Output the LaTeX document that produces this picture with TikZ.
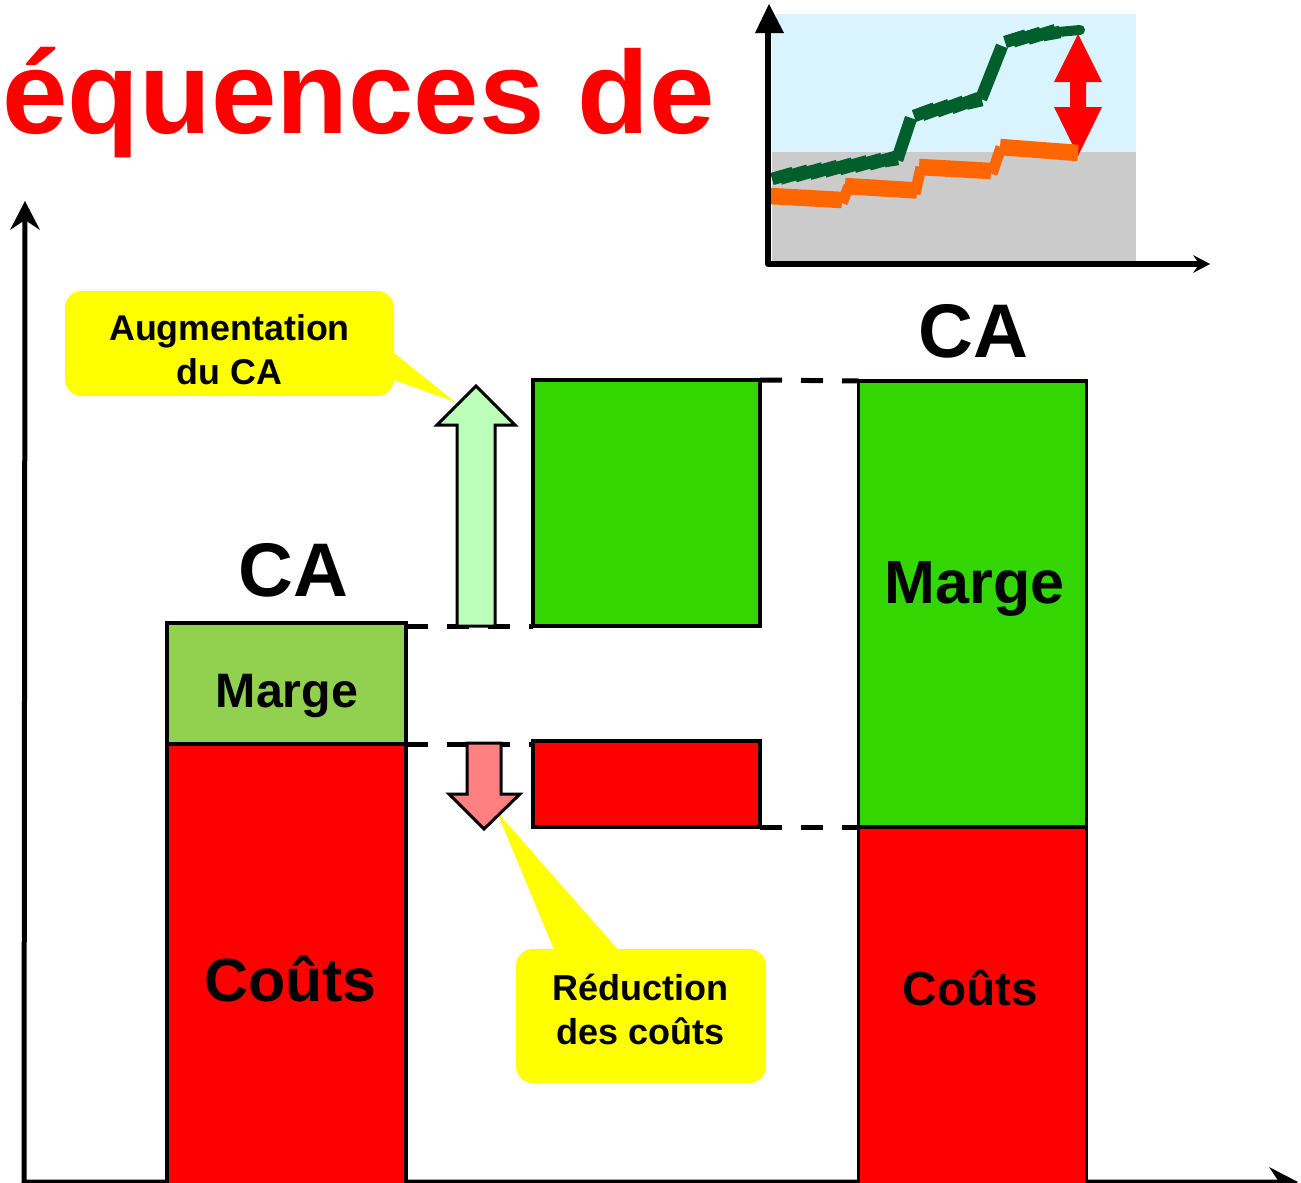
\documentclass[tikz,border=0pt]{standalone}
\usepackage{fontspec}
\setmainfont{Liberation Sans}
\usetikzlibrary{decorations.pathmorphing}
\definecolor{barG}{HTML}{33D600}
\definecolor{barO}{HTML}{92D050}
\definecolor{skyB}{HTML}{D9F4FF}
\definecolor{grayB}{HTML}{CBCBCB}
\definecolor{darkG}{HTML}{005F2A}
\definecolor{orangeL}{HTML}{FF6600}
\definecolor{arrUp}{HTML}{BBFFBB}
\definecolor{arrDn}{HTML}{FF8080}
\definecolor{callY}{HTML}{FFFF00}
\definecolor{pureR}{HTML}{FF0000}
\newcommand{\lbl}[1]{\fontsize{#1}{#1}\selectfont\bfseries}
\tikzset{
  x=1pt,y=-1pt,
  bar/.style={draw=black,line width=3.6pt,inner sep=0pt,outer sep=0pt},
  dashline/.style={line width=5pt,dash pattern=on 22pt off 19pt},
  txt/.style={inner sep=0pt,anchor=base,align=center},
  callout/.style={fill=callY,draw=none,rounded corners=17pt},
  bigarrow/.style={draw=black,line width=3pt,miter limit=10},
  greenline/.style={draw=darkG,line width=12.5pt},
  rough/.style={decorate,decoration={saw,segment length=15pt,amplitude=1.8pt}},
  orangeline/.style={draw=orangeL,line width=16.5pt},
  orangestep/.style={draw=orangeL,line width=11pt},
}
\begin{document}
\begin{tikzpicture}
\useasboundingbox (0,0) rectangle (1301,1183);
% title
\node[inner sep=0pt,anchor=base west,text=pureR] (title) at (2,133) {\lbl{117.6}équences de};
% inset
\fill[skyB] (772,14) rectangle (1136,152);
\fill[grayB] (772,152) rectangle (1136,262);
\fill[pureR] (1078,34) -- (1102,82) -- (1086,82) -- (1086,107) -- (1102,107) -- (1078,156) -- (1054,107) -- (1070,107) -- (1070,82) -- (1054,82) -- cycle;
\draw[orangeline] (770,196) -- (842,200);
\draw[orangestep] (842,203) -- (849,186);
\draw[orangeline] (845,186) -- (917,190.5);
\draw[orangestep] (915,194) -- (921,167);
\draw[orangeline] (919,167) -- (991,171);
\draw[orangestep] (992,174) -- (1001,147);
\draw[orangeline] (1000,147) -- (1078,153);
\draw[greenline,rough] (772,179) -- (898,159);
\draw[greenline] (897,160) -- (911,118);
\draw[greenline,rough] (914,116) -- (982,100);
\draw[greenline] (981,99) -- (1002,46);
\draw[greenline,rough] (1005,42) -- (1060,32);
\draw[greenline,line cap=round,line width=10pt] (1058,32) -- (1080,30);
% inset axes
\draw[line width=6pt,line join=round] (768,33) -- (768,264) -- (1200,264);
\fill (769,4) -- (784,33) -- (755,33) -- cycle;
\fill (1210,264) -- (1193,255) -- (1199,264) -- (1193,273) -- cycle;
% main axes
\draw[line width=5pt] (25,220) -- (24,1182) -- (1290,1182);
\fill (25,201) -- (40,230) -- (25,220) -- (10,230) -- cycle;
\fill (1298,1182) -- (1269,1167) -- (1279,1182) -- (1269,1197) -- cycle;
% bars
\node[bar,fill=barO,minimum width=238.5pt,minimum height=121pt] (ml) at (286.5,683.5) {};
\node[bar,fill=pureR,minimum width=238.5pt,minimum height=442pt] (cl) at (286.5,965) {};
\node[bar,fill=barG,minimum width=227pt,minimum height=246pt] (gm) at (646.5,503) {};
\node[bar,fill=pureR,minimum width=227pt,minimum height=86pt] (rm) at (646.5,784) {};
\node[bar,fill=barG,minimum width=228pt,minimum height=446pt] (gr) at (972.5,604) {};
\node[bar,fill=pureR,minimum width=228pt,minimum height=360pt] (cr) at (972.5,1007) {};
% dashed connectors
\draw[dashline] (ml.east |- gm.south west) -- (gm.south west);
\draw[dashline] (ml.south east) -- (ml.south east -| rm.west);
\draw[dashline] (gm.north east) -- (gr.north west);
\draw[dashline] (rm.south east) -- (gr.south west);
% callouts
\fill[callY] (394,353) -- (455,402) -- (394,380) -- cycle;
\fill[callY] (555,952) -- (497,812) -- (620,952) -- cycle;
\node[callout,minimum width=329pt,minimum height=105pt,inner sep=0pt] (ca) at (229.5,343.5) {};
\node[callout,minimum width=250pt,minimum height=134pt,inner sep=0pt] (cb) at (641,1016) {};
% big arrows
\draw[bigarrow,fill=arrUp] (476,386) -- (515,425) -- (495,425) -- (495,626) -- (457,626) -- (457,425) -- (437,425) -- cycle;
\draw[bigarrow,fill=arrDn] (467,743) -- (501,743) -- (501,794) -- (520,794) -- (484,829) -- (449,794) -- (467,794) -- cycle;
% labels
\node[txt] (t1) at (229.5,340) {\lbl{35.8}Augmentation};
\node[txt] (t2) at (229.5,384) {\lbl{35.8}du CA};
\node[txt] (t3) at (640.5,1000) {\lbl{36}Réduction};
\node[txt] (t4) at (641,1044) {\lbl{36}des coûts};
\node[txt] (ca1) at (293.5,596) {\lbl{76}CA};
\node[txt] (ca2) at (973.5,357) {\lbl{76}CA};
\node[txt] (m1) at (287,707) {\lbl{48.3}Marge};
\node[txt] (m2) at (974.5,603) {\lbl{61}Marge};
\node[txt] (c1) at (290.5,1001) {\lbl{61}Coûts};
\node[txt] (c2) at (970.5,1005) {\lbl{47.7}Coûts};
\end{tikzpicture}
\end{document}
